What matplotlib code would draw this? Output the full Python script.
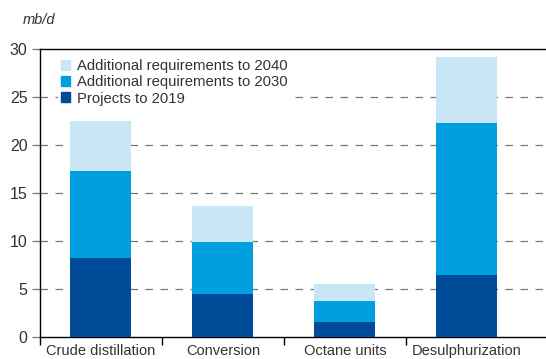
import numpy as np
import matplotlib.pyplot as plt
from matplotlib.patches import Patch

plt.rcParams['font.family'] = ['Liberation Sans', 'DejaVu Sans']

# Refining capacity requirements by process type (mb/d)
categories = ["Crude distillation", "Conversion", "Octane units", "Desulphurization"]
projects_2019 = [8.2, 4.5, 1.6, 6.45]
add_2030 = [9.1, 5.4, 2.2, 15.8]
add_2040 = [5.15, 3.75, 1.75, 6.95]

c_dark = "#004b98"
c_mid = "#009fe0"
c_light = "#c9e6f7"
txt = "#333333"

fig = plt.figure(figsize=(5.46, 3.59), dpi=100)
ax = fig.add_axes([40/546, 1 - 337/359, 1 - 40/546, 288/359])

x = np.arange(len(categories))
w = 0.5
b1 = np.array(projects_2019)
b2 = b1 + np.array(add_2030)
ax.bar(x, projects_2019, width=w, color=c_dark, zorder=3)
ax.bar(x, add_2030, width=w, bottom=b1, color=c_mid, zorder=3)
ax.bar(x, add_2040, width=w, bottom=b2, color=c_light, zorder=3)

ax.set_ylim(0, 30)
ax.set_xlim(-0.5, 3.65)
ax.set_yticks([0, 5, 10, 15, 20, 25, 30])
for y in [5, 10, 15, 20, 25]:
    ax.axhline(y, color="#777777", lw=0.9, ls=(0, (6, 6)), zorder=1)
ax.axhline(30, color="black", lw=1.0, zorder=4, clip_on=False)

ax.set_xticks(x)
ax.set_xticklabels(categories)
ax.set_xticks([-0.5, 0.5, 1.5, 2.5], minor=True)
ax.tick_params(axis="x", which="major", length=0, pad=5, labelsize=10.5, labelcolor=txt)
ax.tick_params(axis="x", which="minor", length=6, width=1, color="black")
ax.tick_params(axis="y", length=6, width=0.9, color="#777777", labelsize=11.5,
               labelcolor=txt, pad=3)

for s in ["top", "right"]:
    ax.spines[s].set_visible(False)
ax.spines["left"].set_linewidth(1)
ax.spines["bottom"].set_linewidth(1)

fig.text(23/546, 1 - 20/359, "mb/d", fontsize=10.5, style="italic", color=txt,
         va="center", ha="left")

handles = [Patch(color=c_light), Patch(color=c_mid), Patch(color=c_dark)]
labels = ["Additional requirements to 2040", "Additional requirements to 2030",
          "Projects to 2019"]
leg = ax.legend(handles, labels, loc="upper left", bbox_to_anchor=(0.035, 0.975),
                frameon=True, fancybox=False, edgecolor="none", facecolor="white",
                framealpha=1, fontsize=10.7, handlelength=0.65, handleheight=0.65,
                handletextpad=0.45, labelspacing=0.15, borderpad=0.2,
                borderaxespad=0)
for t in leg.get_texts():
    t.set_color(txt)
leg.set_zorder(5)

plt.savefig("out.png", dpi=100)
